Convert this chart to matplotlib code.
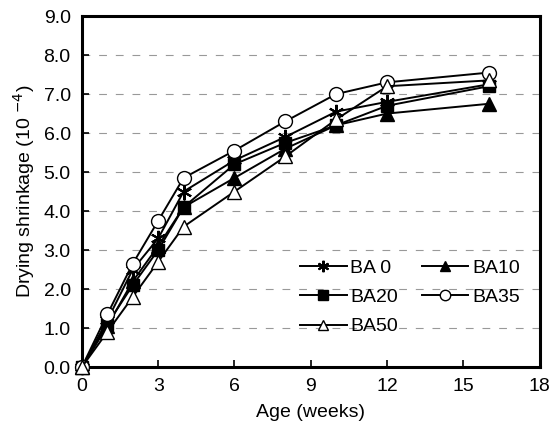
import matplotlib
matplotlib.use("Agg")
import matplotlib.pyplot as plt

plt.rcParams['font.family'] = ['Liberation Sans', 'DejaVu Sans']

weeks = [0, 1, 2, 3, 4, 6, 8, 10, 12, 16]

ba0 = [0.0, 1.2, 2.5, 3.3, 4.5, 5.3, 5.9, 6.55, 6.8, 7.25]
ba10 = [0.0, 1.05, 2.2, 3.1, 4.1, 4.85, 5.6, 6.2, 6.5, 6.75]
ba20 = [0.0, 1.1, 2.1, 3.0, 4.1, 5.2, 5.75, 6.2, 6.7, 7.2]
ba35 = [0.0, 1.35, 2.65, 3.75, 4.85, 5.55, 6.3, 7.0, 7.3, 7.55]
ba50 = [0.0, 0.9, 1.8, 2.7, 3.6, 4.5, 5.4, 6.35, 7.2, 7.35]

series = [
    ("BA 0", ba0, dict(marker=(6, 2, 0), markersize=11, mew=1.5, color="black")),
    ("BA10", ba10, dict(marker="^", markersize=10, color="black")),
    ("BA20", ba20, dict(marker="s", markersize=9, color="black")),
    ("BA35", ba35, dict(marker="o", markersize=10, mfc="white", mec="black", color="black")),
    ("BA50", ba50, dict(marker="^", markersize=10, mfc="white", mec="black", color="black")),
]

fig = plt.figure(figsize=(5.53, 4.45), dpi=100)
ax = fig.add_axes([0.148, 0.175, 0.828, 0.789])

for label, vals, style in series:
    ax.plot(weeks, vals, lw=1.4, label=label, clip_on=False, zorder=3, **style)

ax.set_xlim(0, 18)
ax.set_ylim(0, 9)
ax.set_xticks(range(0, 19, 3))
ax.set_yticks(range(0, 10))
ax.set_yticklabels([f"{v:.1f}" for v in range(0, 10)])
ax.yaxis.grid(True, color="#999999", lw=0.8, ls=(0, (7, 8)))
ax.set_axisbelow(True)

for s in ax.spines.values():
    s.set_linewidth(2.2)
ax.tick_params(direction="in", labelsize=14, length=5, width=1.2, pad=8)

ax.set_xlabel("Age (weeks)", fontsize=14, labelpad=6)
ax.set_ylabel("Drying shrinkage (10 $^{-4}$)", fontsize=14, labelpad=5)

handles, labels = ax.get_legend_handles_labels()
order = [0, 2, 4, 1, 3]
ax.legend([handles[i] for i in order], [labels[i] for i in order],
          ncol=2, frameon=False, fontsize=14, loc="upper left",
          bbox_to_anchor=(0.455, 0.335), borderpad=0, handlelength=2.4,
          handletextpad=0.2, columnspacing=1.2, labelspacing=0.6,
          markerscale=0.75)

fig.savefig("out.png", dpi=100)
